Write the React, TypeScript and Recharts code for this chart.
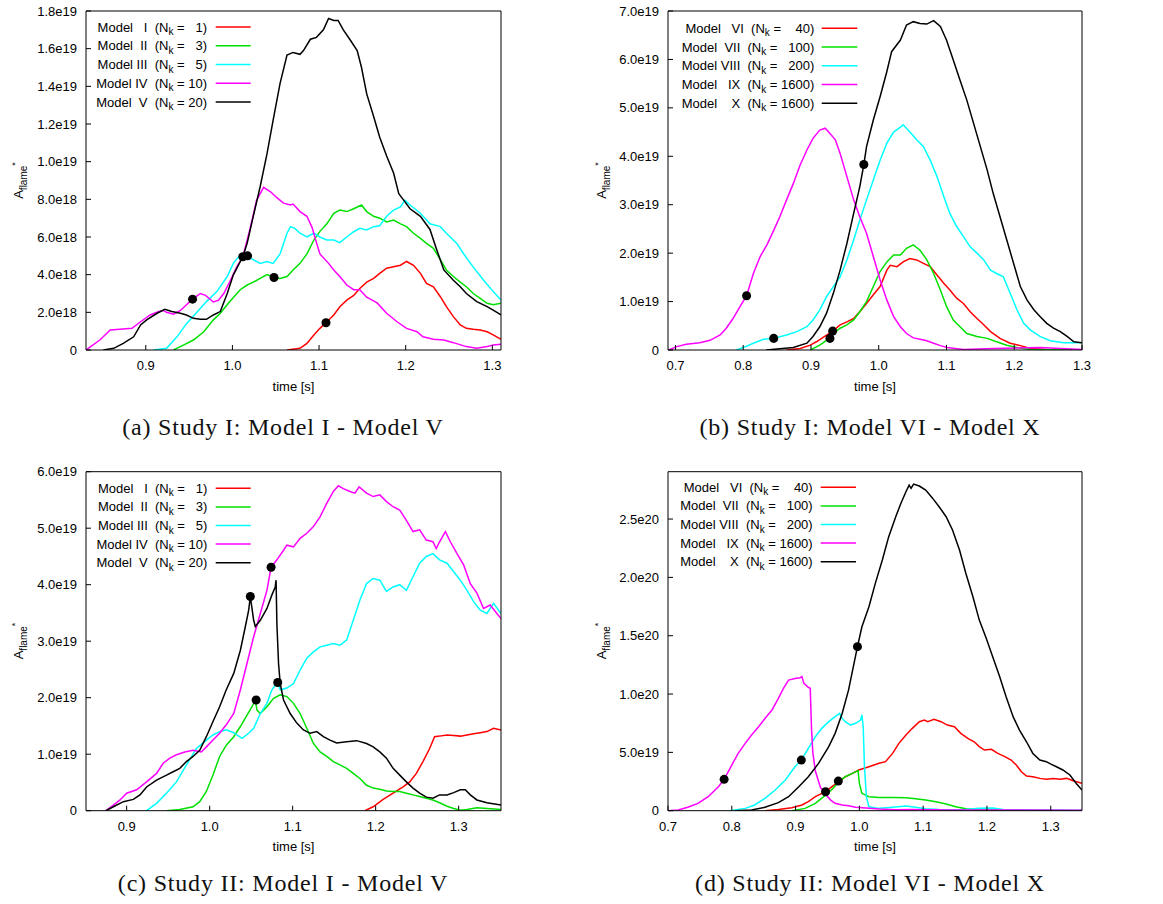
import React from 'react';
import { ComposedChart, Line, Scatter, XAxis, YAxis } from 'recharts';

type Pt = [number, number];

const seriesColors = ['#ff0000', '#00e000', '#00ffff', '#ff00ff', '#000000'];

// ---------- Panel (a): Study I, Model I - V  (values in 1e18)
const aXTicks = [0.9, 1.0, 1.1, 1.2, 1.3];
const aXLabels = ['0.9', '1.0', '1.1', '1.2', '1.3'];
const aYTicks = [0, 2, 4, 6, 8, 10, 12, 14, 16, 18];
const aYLabels = ['0', '2.0e18', '4.0e18', '6.0e18', '8.0e18', '1.0e19', '1.2e19', '1.4e19', '1.6e19', '1.8e19'];
const aModelI: Pt[] = [[1.063,0],[1.078,0.09],[1.086,0.35],[1.094,0.8],[1.101,1.15],[1.109,1.5],[1.117,1.86],[1.124,2.3],[1.132,2.65],[1.140,2.9],[1.147,3.27],[1.155,3.6],[1.163,3.8],[1.170,4.07],[1.178,4.34],[1.186,4.42],[1.194,4.5],[1.201,4.7],[1.209,4.5],[1.217,4.07],[1.224,3.54],[1.232,3.36],[1.240,2.83],[1.247,2.3],[1.255,1.77],[1.263,1.33],[1.270,1.15],[1.278,1.1],[1.286,1.06],[1.294,0.97],[1.301,0.8],[1.310,0.57]];
const aModelII: Pt[] = [[0.932,0],[0.944,0.27],[0.955,0.53],[0.967,0.97],[0.978,1.6],[0.986,1.95],[0.997,2.57],[1.009,3.2],[1.017,3.45],[1.024,3.6],[1.032,3.8],[1.040,4.0],[1.048,3.85],[1.055,3.8],[1.063,3.9],[1.070,4.25],[1.078,4.6],[1.086,5.1],[1.094,5.84],[1.101,6.3],[1.109,6.7],[1.117,7.26],[1.124,7.43],[1.132,7.35],[1.140,7.5],[1.149,7.7],[1.155,7.35],[1.163,7.1],[1.170,7.0],[1.178,6.8],[1.186,6.9],[1.194,6.7],[1.201,6.55],[1.209,6.2],[1.217,5.93],[1.224,5.66],[1.232,5.4],[1.240,4.8],[1.247,4.25],[1.255,3.9],[1.263,3.6],[1.270,3.36],[1.278,3.0],[1.286,2.74],[1.294,2.48],[1.301,2.4],[1.310,2.48]];
const aModelIII: Pt[] = [[0.909,0],[0.924,0.09],[0.936,0.7],[0.947,1.4],[0.959,2.0],[0.970,2.57],[0.982,3.1],[0.994,3.9],[1.001,4.6],[1.009,5.05],[1.017,4.95],[1.024,4.8],[1.032,4.6],[1.040,4.7],[1.047,4.6],[1.055,5.1],[1.063,6.2],[1.067,6.55],[1.072,6.46],[1.078,6.2],[1.086,6.0],[1.094,6.2],[1.101,6.0],[1.109,5.84],[1.117,5.84],[1.124,5.7],[1.132,6.0],[1.140,6.28],[1.147,6.46],[1.155,6.37],[1.163,6.55],[1.170,6.6],[1.178,7.1],[1.186,7.43],[1.194,7.6],[1.199,7.96],[1.205,7.7],[1.217,7.26],[1.228,6.7],[1.240,6.55],[1.247,6.2],[1.259,5.66],[1.267,5.1],[1.278,4.4],[1.290,3.7],[1.301,3.1],[1.310,2.65]];
const aModelIV: Pt[] = [[0.831,0],[0.847,0.53],[0.859,1.06],[0.870,1.1],[0.884,1.15],[0.894,1.5],[0.905,1.86],[0.915,2.04],[0.920,2.1],[0.924,2.0],[0.932,1.9],[0.940,2.1],[0.947,2.4],[0.954,2.7],[0.963,3.0],[0.969,2.9],[0.978,2.55],[0.984,2.65],[0.990,3.0],[0.997,3.63],[1.005,4.42],[1.012,4.95],[1.020,6.37],[1.028,7.96],[1.036,8.64],[1.044,8.4],[1.051,8.1],[1.059,7.8],[1.067,7.7],[1.070,7.75],[1.078,7.35],[1.086,7.1],[1.092,6.5],[1.097,5.7],[1.101,5.1],[1.111,4.6],[1.117,4.25],[1.124,3.9],[1.132,3.45],[1.140,3.2],[1.147,3.2],[1.155,2.8],[1.167,2.5],[1.178,1.95],[1.190,1.5],[1.201,1.15],[1.213,0.97],[1.220,0.7],[1.232,0.57],[1.244,0.53],[1.255,0.39],[1.270,0.18],[1.282,0.09],[1.294,0.18],[1.301,0.27],[1.310,0.3]];
const aModelV: Pt[] = [[0.851,0],[0.863,0.09],[0.874,0.35],[0.886,0.7],[0.894,1.33],[0.901,1.6],[0.913,1.95],[0.922,2.16],[0.930,2.04],[0.940,1.95],[0.947,1.86],[0.955,1.68],[0.963,1.63],[0.970,1.63],[0.978,1.86],[0.986,2.04],[0.994,3.0],[1.001,3.98],[1.009,4.69],[1.012,4.95],[1.017,5.66],[1.024,7.08],[1.032,8.67],[1.040,10.44],[1.047,12.2],[1.055,14.16],[1.063,15.66],[1.070,15.8],[1.078,15.7],[1.082,15.9],[1.090,16.5],[1.097,16.6],[1.105,17.0],[1.111,17.6],[1.117,17.5],[1.122,17.5],[1.128,17.0],[1.136,16.46],[1.144,15.9],[1.149,15.0],[1.155,13.6],[1.163,12.4],[1.170,11.3],[1.178,10.3],[1.186,9.4],[1.192,8.3],[1.197,8.0],[1.205,7.5],[1.217,7.1],[1.228,6.4],[1.236,5.3],[1.244,4.25],[1.255,3.7],[1.263,3.36],[1.270,3.0],[1.282,2.57],[1.294,2.3],[1.301,2.12],[1.310,1.86]];
const aDots: Pt[] = [[0.954,2.7],[1.012,4.95],[1.0175,5.0],[1.048,3.85],[1.108,1.45]];

// ---------- Panel (b): Study I, Model VI - X  (values in 1e19)
const bXTicks = [0.7, 0.8, 0.9, 1.0, 1.1, 1.2, 1.3];
const bXLabels = ['0.7', '0.8', '0.9', '1.0', '1.1', '1.2', '1.3'];
const bYTicks = [0, 1, 2, 3, 4, 5, 6, 7];
const bYLabels = ['0', '1.0e19', '2.0e19', '3.0e19', '4.0e19', '5.0e19', '6.0e19', '7.0e19'];
const bModelVI: Pt[] = [[0.864,0],[0.884,0.03],[0.899,0.1],[0.908,0.17],[0.918,0.26],[0.932,0.39],[0.943,0.52],[0.953,0.58],[0.963,0.65],[0.972,0.79],[0.982,0.96],[0.992,1.14],[1.002,1.31],[1.012,1.65],[1.017,1.75],[1.027,1.72],[1.036,1.82],[1.046,1.89],[1.056,1.86],[1.066,1.79],[1.076,1.72],[1.086,1.55],[1.096,1.38],[1.105,1.24],[1.115,1.07],[1.125,0.96],[1.135,0.79],[1.145,0.65],[1.155,0.52],[1.165,0.38],[1.179,0.24],[1.194,0.14],[1.209,0.09],[1.224,0.03],[1.248,0.01],[1.300,0]];
const bModelVII: Pt[] = [[0.899,0],[0.913,0.1],[0.928,0.25],[0.933,0.34],[0.943,0.45],[0.953,0.52],[0.963,0.62],[0.972,0.79],[0.982,1.0],[0.992,1.31],[1.002,1.62],[1.012,1.82],[1.022,1.96],[1.032,1.96],[1.041,2.1],[1.051,2.17],[1.061,2.06],[1.071,1.86],[1.081,1.58],[1.091,1.24],[1.100,0.9],[1.110,0.62],[1.120,0.48],[1.130,0.34],[1.145,0.28],[1.160,0.24],[1.174,0.17],[1.189,0.1],[1.204,0.05],[1.224,0.01],[1.300,0]];
const bModelVIII: Pt[] = [[0.790,0],[0.800,0.05],[0.815,0.14],[0.830,0.22],[0.845,0.24],[0.864,0.31],[0.879,0.38],[0.894,0.48],[0.903,0.62],[0.913,0.83],[0.923,1.1],[0.933,1.31],[0.943,1.51],[0.953,1.86],[0.963,2.27],[0.972,2.68],[0.982,3.1],[0.992,3.51],[1.002,3.92],[1.012,4.27],[1.022,4.5],[1.032,4.6],[1.036,4.65],[1.046,4.5],[1.056,4.34],[1.066,4.2],[1.076,3.92],[1.086,3.58],[1.096,3.17],[1.105,2.82],[1.115,2.55],[1.125,2.34],[1.135,2.13],[1.145,2.0],[1.155,1.86],[1.165,1.65],[1.174,1.58],[1.184,1.51],[1.194,1.17],[1.204,0.83],[1.214,0.55],[1.224,0.41],[1.238,0.28],[1.253,0.19],[1.273,0.15],[1.300,0.15]];
const bModelIX: Pt[] = [[0.690,0],[0.702,0.07],[0.716,0.12],[0.736,0.15],[0.751,0.2],[0.766,0.31],[0.775,0.45],[0.785,0.65],[0.795,0.89],[0.805,1.12],[0.815,1.58],[0.825,1.93],[0.835,2.17],[0.844,2.44],[0.854,2.75],[0.864,3.1],[0.874,3.44],[0.884,3.82],[0.894,4.13],[0.903,4.37],[0.913,4.54],[0.921,4.58],[0.928,4.47],[0.936,4.34],[0.943,4.06],[0.953,3.58],[0.963,3.1],[0.972,2.75],[0.982,2.41],[0.992,1.93],[1.002,1.45],[1.012,1.03],[1.022,0.69],[1.032,0.48],[1.041,0.34],[1.051,0.25],[1.061,0.22],[1.071,0.19],[1.081,0.14],[1.091,0.09],[1.101,0.05],[1.125,0.01],[1.170,0.03],[1.238,0.05],[1.300,0.01]];
const bModelX: Pt[] = [[0.834,0],[0.874,0.05],[0.894,0.14],[0.903,0.28],[0.913,0.48],[0.923,0.76],[0.933,1.17],[0.943,1.65],[0.953,2.2],[0.963,2.82],[0.972,3.37],[0.978,3.83],[0.982,4.2],[0.992,4.75],[1.002,5.23],[1.012,5.75],[1.019,6.16],[1.032,6.4],[1.041,6.71],[1.051,6.78],[1.061,6.74],[1.071,6.73],[1.081,6.8],[1.091,6.68],[1.100,6.4],[1.110,5.99],[1.120,5.57],[1.130,5.16],[1.140,4.68],[1.150,4.2],[1.160,3.72],[1.169,3.23],[1.179,2.75],[1.189,2.27],[1.199,1.79],[1.209,1.31],[1.219,1.03],[1.229,0.83],[1.238,0.69],[1.248,0.55],[1.258,0.45],[1.268,0.38],[1.278,0.28],[1.288,0.17],[1.300,0.15]];
const bDots: Pt[] = [[0.805,1.12],[0.845,0.24],[0.928,0.24],[0.932,0.39],[0.978,3.83]];

// ---------- Panel (c): Study II, Model I - V  (values in 1e19)
const cXTicks = [0.9, 1.0, 1.1, 1.2, 1.3];
const cXLabels = ['0.9', '1.0', '1.1', '1.2', '1.3'];
const cYTicks = [0, 1, 2, 3, 4, 5, 6];
const cYLabels = ['0', '1.0e19', '2.0e19', '3.0e19', '4.0e19', '5.0e19', '6.0e19'];
const cModelI: Pt[] = [[1.187,0],[1.197,0.07],[1.209,0.2],[1.221,0.31],[1.233,0.42],[1.241,0.51],[1.249,0.66],[1.257,0.87],[1.265,1.1],[1.271,1.31],[1.277,1.32],[1.286,1.34],[1.294,1.33],[1.302,1.32],[1.310,1.34],[1.318,1.36],[1.326,1.38],[1.334,1.4],[1.342,1.46],[1.351,1.43]];
const cModelII: Pt[] = [[0.948,0],[0.964,0.02],[0.980,0.07],[0.988,0.16],[0.996,0.34],[1.004,0.63],[1.012,0.96],[1.020,1.16],[1.029,1.31],[1.037,1.49],[1.045,1.69],[1.051,1.84],[1.055,1.96],[1.057,1.78],[1.061,1.72],[1.069,1.84],[1.077,1.99],[1.085,2.05],[1.093,2.02],[1.101,1.9],[1.109,1.72],[1.117,1.46],[1.125,1.19],[1.133,1.04],[1.141,0.96],[1.149,0.87],[1.157,0.81],[1.165,0.75],[1.173,0.66],[1.181,0.57],[1.189,0.45],[1.197,0.4],[1.205,0.38],[1.213,0.35],[1.221,0.34],[1.229,0.34],[1.237,0.31],[1.245,0.28],[1.253,0.25],[1.261,0.22],[1.269,0.19],[1.277,0.14],[1.286,0.08],[1.294,0.04],[1.302,0.01],[1.310,0.02],[1.322,0.05],[1.334,0.04],[1.351,0.02]];
const cModelIII: Pt[] = [[0.924,0],[0.936,0.13],[0.948,0.31],[0.960,0.51],[0.972,0.81],[0.984,1.1],[0.996,1.25],[1.004,1.34],[1.012,1.4],[1.020,1.43],[1.029,1.38],[1.039,1.28],[1.047,1.37],[1.053,1.46],[1.061,1.72],[1.069,1.9],[1.075,2.14],[1.079,2.22],[1.082,2.27],[1.085,2.14],[1.093,2.17],[1.101,2.25],[1.109,2.49],[1.117,2.7],[1.125,2.81],[1.133,2.9],[1.141,2.93],[1.149,2.96],[1.157,2.93],[1.165,3.02],[1.173,3.37],[1.181,3.73],[1.189,4.02],[1.197,4.11],[1.205,4.08],[1.213,3.88],[1.221,3.96],[1.229,4.0],[1.237,3.9],[1.245,4.14],[1.253,4.38],[1.261,4.5],[1.269,4.55],[1.277,4.44],[1.286,4.38],[1.294,4.23],[1.302,4.08],[1.310,3.9],[1.318,3.7],[1.326,3.55],[1.334,3.49],[1.342,3.67],[1.351,3.49]];
const cModelIV: Pt[] = [[0.875,0],[0.884,0.1],[0.892,0.19],[0.900,0.31],[0.912,0.37],[0.924,0.51],[0.936,0.66],[0.944,0.84],[0.952,0.93],[0.960,0.99],[0.970,1.04],[0.980,1.07],[0.990,1.04],[0.996,1.13],[1.004,1.25],[1.012,1.37],[1.020,1.52],[1.029,1.72],[1.037,2.14],[1.045,2.61],[1.053,3.08],[1.061,3.49],[1.069,3.9],[1.074,4.31],[1.081,4.44],[1.089,4.61],[1.093,4.7],[1.101,4.67],[1.109,4.82],[1.117,4.91],[1.125,5.03],[1.133,5.2],[1.141,5.44],[1.149,5.65],[1.155,5.75],[1.161,5.7],[1.169,5.65],[1.175,5.62],[1.180,5.73],[1.189,5.62],[1.197,5.56],[1.205,5.59],[1.213,5.47],[1.221,5.38],[1.229,5.32],[1.237,5.14],[1.245,4.94],[1.253,4.97],[1.261,4.79],[1.269,4.76],[1.273,4.64],[1.277,4.76],[1.284,4.94],[1.290,4.76],[1.298,4.55],[1.306,4.35],[1.314,4.02],[1.322,3.85],[1.330,3.58],[1.338,3.64],[1.346,3.49],[1.351,3.4]];
const cModelV: Pt[] = [[0.875,0],[0.884,0.07],[0.896,0.16],[0.908,0.2],[0.916,0.28],[0.924,0.42],[0.936,0.54],[0.948,0.63],[0.956,0.69],[0.964,0.75],[0.972,0.87],[0.980,0.96],[0.988,1.07],[0.996,1.31],[1.004,1.58],[1.012,1.84],[1.020,2.14],[1.029,2.43],[1.037,2.84],[1.043,3.26],[1.047,3.55],[1.049,3.79],[1.053,3.37],[1.055,3.26],[1.061,3.37],[1.069,3.58],[1.075,3.82],[1.079,3.96],[1.080,4.08],[1.081,3.3],[1.083,2.6],[1.085,2.25],[1.089,1.96],[1.097,1.72],[1.105,1.55],[1.113,1.43],[1.121,1.37],[1.129,1.4],[1.137,1.31],[1.145,1.25],[1.153,1.2],[1.165,1.22],[1.177,1.24],[1.189,1.19],[1.197,1.13],[1.205,1.04],[1.213,0.93],[1.221,0.75],[1.229,0.63],[1.237,0.51],[1.245,0.4],[1.253,0.31],[1.261,0.24],[1.269,0.22],[1.277,0.28],[1.286,0.28],[1.294,0.32],[1.302,0.37],[1.308,0.37],[1.314,0.28],[1.322,0.19],[1.334,0.14],[1.351,0.1]];
const cDots: Pt[] = [[1.049,3.79],[1.056,1.96],[1.074,4.31],[1.082,2.27]];

// ---------- Panel (d): Study II, Model VI - X  (values in 1e19)
const dXTicks = [0.7, 0.8, 0.9, 1.0, 1.1, 1.2, 1.3];
const dXLabels = ['0.7', '0.8', '0.9', '1.0', '1.1', '1.2', '1.3'];
const dYTicks = [0, 5, 10, 15, 20, 25];
const dYLabels = ['0', '5.0e19', '1.0e20', '1.5e20', '2.0e20', '2.5e20'];
const dModelVI: Pt[] = [[0.852,0],[0.873,0.11],[0.894,0.26],[0.910,0.49],[0.920,0.77],[0.931,1.2],[0.947,1.63],[0.957,2.06],[0.968,2.49],[0.978,2.91],[0.989,3.2],[0.999,3.49],[1.015,3.77],[1.031,4.06],[1.041,4.2],[1.052,4.91],[1.062,5.77],[1.073,6.49],[1.083,7.06],[1.094,7.63],[1.102,7.77],[1.107,7.63],[1.117,7.83],[1.128,7.63],[1.138,7.34],[1.149,7.2],[1.159,6.63],[1.170,6.2],[1.180,5.91],[1.188,5.49],[1.196,5.2],[1.207,5.26],[1.217,4.91],[1.228,4.63],[1.238,4.34],[1.246,3.91],[1.254,3.34],[1.262,2.97],[1.272,2.91],[1.283,2.77],[1.293,2.69],[1.304,2.77],[1.314,2.69],[1.325,2.77],[1.335,2.57],[1.349,2.34]];
const dModelVII: Pt[] = [[0.894,0],[0.915,0.2],[0.931,0.63],[0.947,1.34],[0.957,1.83],[0.968,2.49],[0.978,2.91],[0.989,3.2],[0.998,3.43],[1.000,2.34],[1.004,1.49],[1.015,1.2],[1.031,1.14],[1.052,1.14],[1.073,1.11],[1.088,1.03],[1.104,0.91],[1.120,0.77],[1.136,0.57],[1.151,0.34],[1.167,0.17],[1.188,0.09],[1.214,0.06],[1.267,0.03],[1.349,0]];
const dModelVIII: Pt[] = [[0.797,0],[0.821,0.2],[0.836,0.49],[0.852,1.06],[0.868,1.77],[0.884,2.63],[0.899,3.77],[0.909,4.34],[0.920,5.34],[0.931,6.34],[0.941,7.06],[0.952,7.63],[0.962,8.06],[0.969,8.34],[0.973,7.91],[0.978,7.63],[0.986,7.34],[0.994,7.49],[1.002,7.77],[1.004,8.2],[1.006,7.2],[1.008,3.77],[1.011,1.2],[1.015,0.34],[1.031,0.2],[1.052,0.29],[1.073,0.4],[1.088,0.29],[1.104,0.17],[1.125,0.11],[1.162,0.09],[1.188,0.2],[1.209,0.23],[1.225,0.11],[1.267,0.06],[1.349,0.03]];
const dModelIX: Pt[] = [[0.700,0],[0.716,0.06],[0.731,0.29],[0.747,0.63],[0.763,1.2],[0.779,2.06],[0.788,2.69],[0.800,3.91],[0.810,4.91],[0.821,5.77],[0.831,6.49],[0.842,7.2],[0.852,7.91],[0.863,8.63],[0.873,9.63],[0.881,10.49],[0.889,11.2],[0.899,11.34],[0.907,11.4],[0.910,11.49],[0.913,10.91],[0.920,10.57],[0.923,10.49],[0.925,7.0],[0.927,5.0],[0.931,3.4],[0.939,2.0],[0.947,1.4],[0.955,0.91],[0.962,0.63],[0.973,0.49],[0.983,0.43],[0.994,0.29],[1.010,0.23],[1.031,0.14],[1.057,0.09],[1.083,0.11],[1.109,0.09],[1.136,0.06],[1.188,0.06],[1.241,0.06],[1.349,0.03]];
const dModelX: Pt[] = [[0.805,0],[0.831,0.06],[0.852,0.29],[0.873,0.69],[0.889,1.2],[0.905,2.06],[0.920,2.91],[0.936,4.06],[0.952,5.49],[0.962,6.63],[0.973,8.34],[0.983,10.34],[0.997,14.06],[1.004,15.77],[1.015,17.49],[1.025,19.49],[1.036,21.49],[1.046,23.49],[1.057,25.2],[1.065,26.34],[1.073,27.34],[1.078,27.91],[1.081,27.63],[1.085,28.0],[1.094,27.83],[1.104,27.49],[1.115,26.77],[1.125,26.06],[1.136,25.2],[1.146,24.06],[1.157,22.34],[1.167,20.34],[1.178,18.34],[1.188,16.34],[1.199,14.77],[1.209,13.2],[1.220,11.49],[1.230,9.77],[1.241,8.06],[1.251,6.91],[1.262,5.91],[1.272,4.91],[1.283,4.34],[1.293,4.2],[1.301,3.97],[1.309,3.77],[1.319,3.49],[1.330,3.06],[1.340,2.34],[1.349,1.77]];
const dDots: Pt[] = [[0.788,2.69],[0.909,4.34],[0.947,1.63],[0.967,2.54],[0.997,14.06]];

// ---------- legend and caption texts
const legendStudyA: [string, string][] = [
  ['Model   I  (N', ' =   1)'],
  ['Model  II  (N', ' =   3)'],
  ['Model III  (N', ' =   5)'],
  ['Model IV  (N', ' = 10)'],
  ['Model  V  (N', ' = 20)'],
];
const legendStudyB: [string, string][] = [
  ['Model   VI  (N', ' =    40)'],
  ['Model  VII  (N', ' =   100)'],
  ['Model VIII  (N', ' =   200)'],
  ['Model   IX  (N', ' = 1600)'],
  ['Model    X  (N', ' = 1600)'],
];
const captions = [
  '(a) Study I: Model I - Model V',
  '(b) Study I: Model VI - Model X',
  '(c) Study II: Model I - Model V',
  '(d) Study II: Model VI - Model X',
];

const SANS = '"Liberation Sans", Arial, Helvetica, sans-serif';
const SERIF = '"Liberation Serif", "Times New Roman", serif';

type Geom = { l: number; t: number; r: number; b: number };

const W = 580;
const H = 400;
const YW = 60;
const XH = 30;

function lookup(ticks: number[], labels: string[]) {
  return (v: number) => {
    const i = ticks.findIndex((t) => Math.abs(t - v) < 1e-9);
    return i >= 0 ? labels[i] : '';
  };
}

function toRows(arr: Pt[]) {
  return arr.map(([t, v]) => ({ t, v }));
}

function Panel(props: {
  x0: number; y0: number; plot: Geom;
  xDomain: [number, number]; yDomain: [number, number];
  xTicks: number[]; xLabels: string[]; yTicks: number[]; yLabels: string[];
  series: Pt[][]; dots: Pt[];
}) {
  const { x0, y0, plot, xDomain, yDomain, xTicks, xLabels, yTicks, yLabels, series, dots } = props;
  const margin = { top: plot.t - 1, left: plot.l - YW, right: W - plot.r - 1, bottom: H - plot.b - XH };
  const tickStyle = { fill: '#000', fontSize: 13, fontFamily: SANS };
  return (
    <div style={{ position: 'absolute', left: x0, top: y0, width: W, height: H }}>
      <ComposedChart width={W} height={H} margin={margin}>
        <XAxis xAxisId="b" type="number" dataKey="t" domain={xDomain} allowDataOverflow ticks={xTicks} interval={0}
          tickFormatter={lookup(xTicks, xLabels)} height={XH} tickSize={-5} tickMargin={16} stroke="#000" tick={tickStyle} />
        <XAxis xAxisId="t" orientation="top" type="number" dataKey="t" domain={xDomain} allowDataOverflow ticks={xTicks} interval={0}
          height={1} tickSize={-5} tick={false} stroke="#000" />
        <YAxis yAxisId="l" type="number" dataKey="v" domain={yDomain} allowDataOverflow ticks={yTicks} interval={0}
          tickFormatter={lookup(yTicks, yLabels)} width={YW} tickSize={-5} tickMargin={14} stroke="#000" tick={tickStyle} />
        <YAxis yAxisId="r" orientation="right" type="number" dataKey="v" domain={yDomain} allowDataOverflow ticks={yTicks} interval={0}
          width={1} tickSize={-5} tick={false} stroke="#000" />
        {series.map((s, i) => (
          <Line key={i} xAxisId="b" yAxisId="l" data={toRows(s)} dataKey="v" type="linear" stroke={seriesColors[i]}
            strokeWidth={1.5} dot={false} activeDot={false} isAnimationActive={false} />
        ))}
        <Scatter xAxisId="b" yAxisId="l" data={toRows(dots)} dataKey="v" fill="#000" isAnimationActive={false} />
      </ComposedChart>
    </div>
  );
}

function LegendBlock(props: { rows: [string, string][]; textRight: number; lx1: number; lx2: number; cy0: number; step: number }) {
  const { rows, textRight, lx1, lx2, cy0, step } = props;
  return (
    <g>
      {rows.map((r, i) => {
        const cy = cy0 + i * step;
        return (
          <g key={i}>
            <text x={textRight} y={cy + 4.5} textAnchor="end" fontSize={13} fontFamily={SANS} fill="#000" style={{ whiteSpace: 'pre' }}>
              {r[0]}
              <tspan dy={3.5} fontSize={10}>k</tspan>
              <tspan dy={-3.5}>{r[1]}</tspan>
            </text>
            <line x1={lx1} x2={lx2} y1={cy} y2={cy} stroke={seriesColors[i]} strokeWidth={1.5} />
          </g>
        );
      })}
    </g>
  );
}

function YTitle(props: { x: number; y: number }) {
  return (
    <text transform={`translate(${props.x},${props.y}) rotate(-90)`} textAnchor="middle" fontSize={13} fontFamily={SANS} fill="#000">
      A<tspan dy={4} fontSize={10}>flame</tspan><tspan dy={-9} fontSize={9}>*</tspan>
    </text>
  );
}

export default function App() {
  const pa: Geom = { l: 86, t: 11, r: 501, b: 350 };
  const pb: Geom = { l: 88, t: 11, r: 502, b: 350 };
  const pc: Geom = { l: 86, t: 21.7, r: 501, b: 360.7 };
  const pd: Geom = { l: 88, t: 21.7, r: 502, b: 360.7 };
  return (
    <div style={{ position: 'relative', width: 1163, height: 904, background: '#fff', overflow: 'hidden' }}>
      <style>{'body{margin:0;background:#fff}'}</style>
      <Panel x0={0} y0={0} plot={pa} xDomain={[0.831, 1.31]} yDomain={[0, 18]} xTicks={aXTicks} xLabels={aXLabels}
        yTicks={aYTicks} yLabels={aYLabels} series={[aModelI, aModelII, aModelIII, aModelIV, aModelV]} dots={aDots} />
      <Panel x0={580} y0={0} plot={pb} xDomain={[0.689, 1.3]} yDomain={[0, 7]} xTicks={bXTicks} xLabels={bXLabels}
        yTicks={bYTicks} yLabels={bYLabels} series={[bModelVI, bModelVII, bModelVIII, bModelIX, bModelX]} dots={bDots} />
      <Panel x0={0} y0={450} plot={pc} xDomain={[0.851, 1.351]} yDomain={[0, 6]} xTicks={cXTicks} xLabels={cXLabels}
        yTicks={cYTicks} yLabels={cYLabels} series={[cModelI, cModelII, cModelIII, cModelIV, cModelV]} dots={cDots} />
      <Panel x0={580} y0={450} plot={pd} xDomain={[0.7, 1.349]} yDomain={[0, 29.06]} xTicks={dXTicks} xLabels={dXLabels}
        yTicks={dYTicks} yLabels={dYLabels} series={[dModelVI, dModelVII, dModelVIII, dModelIX, dModelX]} dots={dDots} />
      <svg width={1163} height={904} style={{ position: 'absolute', left: 0, top: 0, pointerEvents: 'none' }}>
        <LegendBlock rows={legendStudyA} textRight={207} lx1={215.7} lx2={250.7} cy0={27} step={18.75} />
        <LegendBlock rows={legendStudyB} textRight={814.3} lx1={821.7} lx2={857.3} cy0={28.3} step={18.75} />
        <LegendBlock rows={legendStudyA} textRight={207.3} lx1={215.7} lx2={250.7} cy0={488.3} step={18.6} />
        <LegendBlock rows={legendStudyB} textRight={812.7} lx1={820.7} lx2={856} cy0={487.3} step={18.6} />
        <YTitle x={23} y={180.5} />
        <YTitle x={606} y={180.5} />
        <YTitle x={23} y={641} />
        <YTitle x={606} y={641} />
        <text x={293.5} y={390.5} textAnchor="middle" fontSize={13} fontFamily={SANS} fill="#000">time [s]</text>
        <text x={875} y={390.5} textAnchor="middle" fontSize={13} fontFamily={SANS} fill="#000">time [s]</text>
        <text x={293.5} y={851} textAnchor="middle" fontSize={13} fontFamily={SANS} fill="#000">time [s]</text>
        <text x={875} y={851} textAnchor="middle" fontSize={13} fontFamily={SANS} fill="#000">time [s]</text>
        <text x={283} y={435} textAnchor="middle" fontSize={24} letterSpacing={0.8} fontFamily={SERIF} fill="#111">{captions[0]}</text>
        <text x={870} y={435} textAnchor="middle" fontSize={24} letterSpacing={0.8} fontFamily={SERIF} fill="#111">{captions[1]}</text>
        <text x={283} y={891} textAnchor="middle" fontSize={24} letterSpacing={0.8} fontFamily={SERIF} fill="#111">{captions[2]}</text>
        <text x={870} y={891} textAnchor="middle" fontSize={24} letterSpacing={0.8} fontFamily={SERIF} fill="#111">{captions[3]}</text>
      </svg>
    </div>
  );
}
